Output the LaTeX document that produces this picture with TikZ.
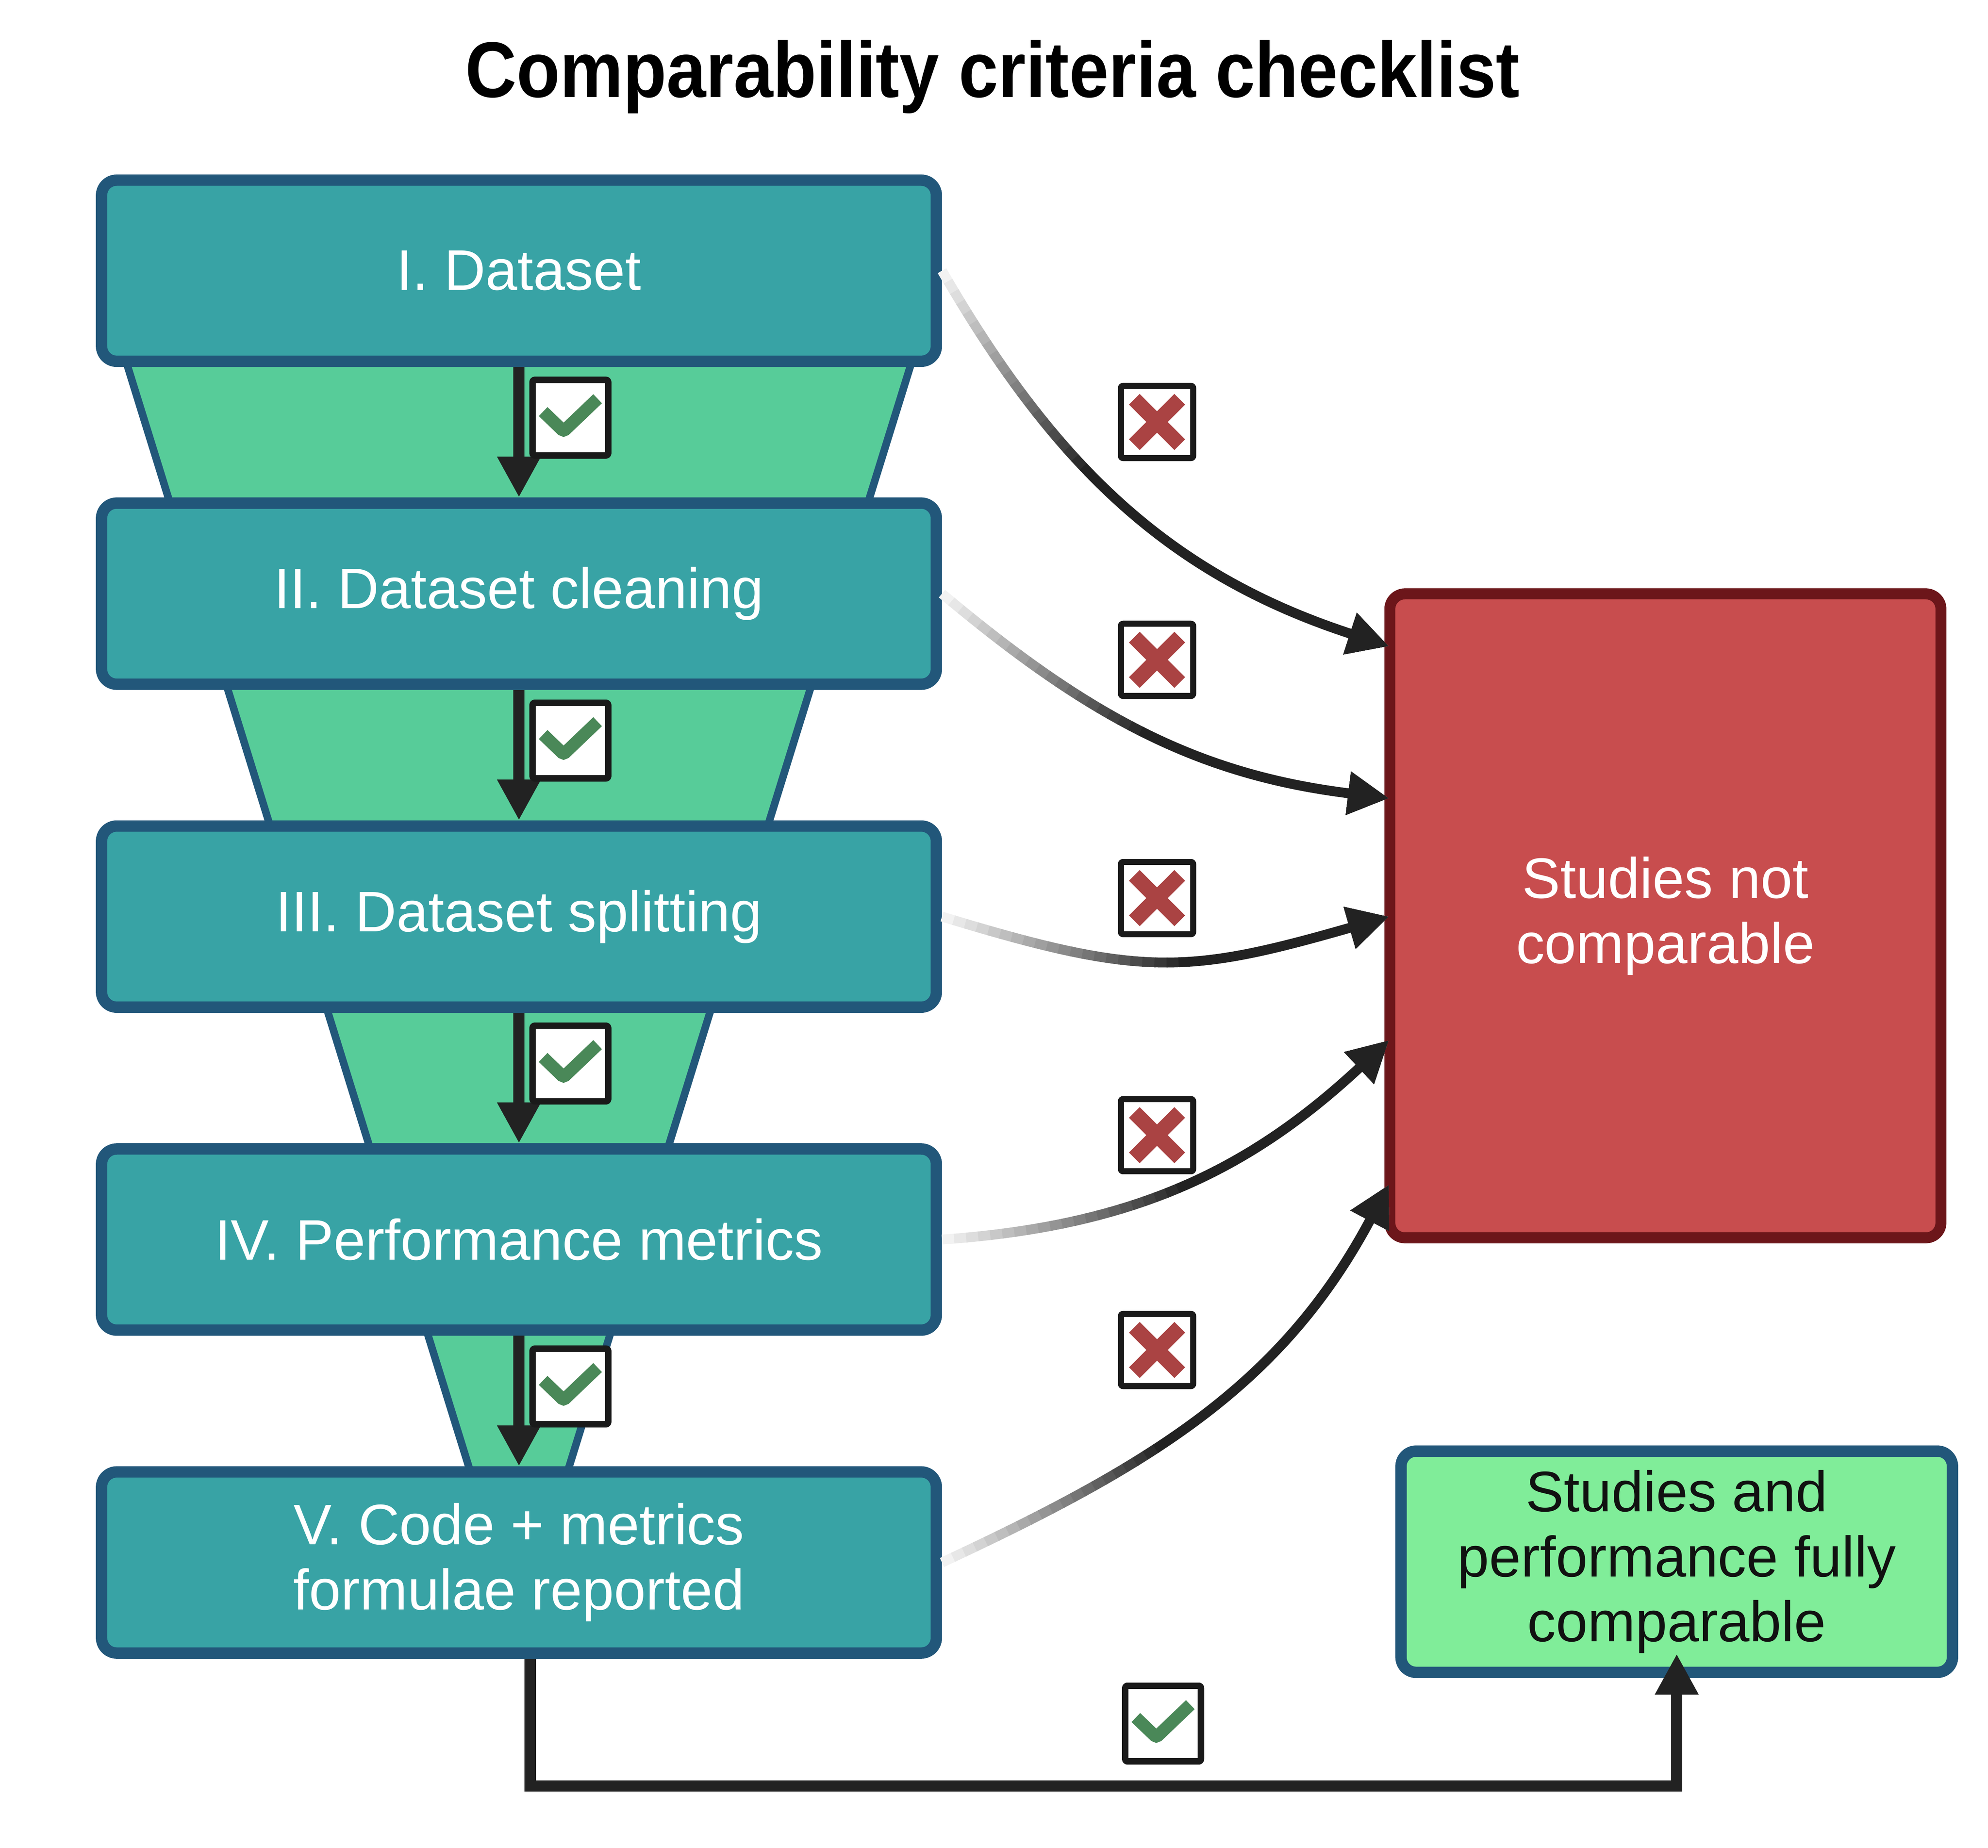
\documentclass[tikz,border=0pt]{standalone}
\usepackage{fontspec}
\setmainfont{Liberation Sans}
\newfontfamily\titlefamily[FakeStretch=0.9]{Liberation Sans}
\usetikzlibrary{calc, positioning, arrows.meta}
\definecolor{boxteal}{HTML}{38A3A5}
\definecolor{boxblue}{HTML}{22577A}
\definecolor{funnelgreen}{HTML}{57CC99}
\definecolor{goodgreen}{HTML}{80ED99}
\definecolor{badred}{HTML}{C84D4E}
\definecolor{badborder}{HTML}{6C161A}
\definecolor{arrowgray}{HTML}{222222}
\definecolor{tickgreen}{HTML}{4A8858}
\definecolor{crossred}{HTML}{AA4343}
\definecolor{boxblack}{HTML}{1A1A1A}
\definecolor{textblack}{HTML}{111111}

\begin{document}
\begin{tikzpicture}[
  stage/.style={draw=boxblue, fill=boxteal, line width=0.15cm, rounded corners=0.2cm,
    minimum width=11.035cm, minimum height=2.395cm, text=white, align=center, font=\myfontbox},
  outcome/.style={line width=0.15cm, rounded corners=0.2cm, align=center, font=\myfontbox},
  tickbox/.style={draw=boxblack, fill=white, line width=0.085cm, rounded corners=0.03cm,
    minimum size=1cm, inner sep=0pt,
    path picture={\draw[tickgreen, line width=0.165cm]
      ([shift={(-0.36,0.08)}]path picture bounding box.center) -- ++(0.27,-0.26) -- ++(0.45,0.43);}},
  crossbox/.style={draw=boxblack, fill=white, line width=0.08cm, rounded corners=0.03cm,
    minimum size=0.955cm, inner sep=0pt,
    path picture={\draw[crossred, line width=0.2cm]
      ([shift={(-0.3,-0.3)}]path picture bounding box.center) -- ++(0.6,0.6)
      ([shift={(-0.3,0.3)}]path picture bounding box.center) -- ++(0.6,-0.6);}},
  flow/.style={draw=arrowgray, line width=0.15cm, -{Triangle[length=0.54cm, width=0.54cm]}},
  reject/.style={line width=0.13cm, -{Triangle[length=0.54cm, width=0.54cm]}}
]
\newcommand{\myfontbox}{\fontsize{21.5}{24.5}\selectfont}
\newcommand{\myfonttitle}{\titlefamily\bfseries\fontsize{29.7}{34}\selectfont}
%Rejection arrow: pale at the stage, dark at the box
\newcommand{\rejectarrow}[3]{
\foreach \k in {0,...,19} {
  \pgfmathsetmacro{\offlen}{\k*0.16}
  \pgfmathsetmacro{\darkness}{6+\k*94/20}
  \draw[reject, arrowgray!\darkness!white, dash pattern=on 0cm off \offlen cm on 0.18cm off 100cm] (#1) #2 (#3);
}
\draw[reject, arrowgray, dash pattern=on 0cm off 3.2cm on 100cm] (#1) #2 (#3);
}
%Canvas
\useasboundingbox (0,0) rectangle (26.28,24.43);
\fill[white] (0,0) rectangle (26.28,24.43);
%Title
\node[anchor=base, font=\myfonttitle] (title) at (13.12,23.145) {Comparability criteria checklist};
%The funnel behind the stages
\coordinate (funnelTopLeft) at (1.58,19.93);
\coordinate (funnelTopRight) at (12.14,19.93);
\coordinate (funnelBottomLeft) at (6.23,4.93);
\coordinate (funnelBottomRight) at (7.49,4.93);
\draw[draw=boxblue, fill=funnelgreen, line width=0.1cm] (funnelTopLeft) -- (funnelTopRight)
  -- (funnelBottomRight) -- (funnelBottomLeft) -- cycle;
%The stages
\node[stage] (stage1) at (6.86,20.85) {I. Dataset};
\node[stage, below=1.725cm of stage1] (stage2) {II. Dataset cleaning};
\node[stage, below=1.725cm of stage2] (stage3) {III. Dataset splitting};
\node[stage, below=1.725cm of stage3] (stage4) {IV. Performance metrics};
\node[stage, below=1.725cm of stage4] (stage5) {V. Code + metrics\\formulae reported};
%Passing from one stage to the next
\foreach \i/\j in {1/2,2/3,3/4,4/5} {
  \draw[flow] (stage\i.south) -- (stage\j.north);
  \node[tickbox] (check\i) at ($(stage\i.south)+(0.68,-0.67)$) {};
}
%Outcomes
\node[outcome, draw=badborder, line width=0.145cm, fill=badred, text=white,
  minimum width=7.285cm, minimum height=8.515cm] (notComparable) at (22.015,12.32) {Studies not\\comparable};
\node[outcome, draw=boxblue, fill=goodgreen, text=textblack,
  minimum width=7.29cm, minimum height=2.925cm] (comparable) at (22.165,3.78) {Studies and\\performance fully\\comparable};
%Failed criteria
\foreach \i/\y in {1/18.85,2/15.705,3/12.555,4/9.42,5/6.58} {
  \node[crossbox] (cross\i) at (15.295,\y) {};
}
\coordinate (entry1) at ($(notComparable.west)+(0.06,3.565)$);
\coordinate (entry2) at ($(notComparable.west)+(0.06,1.555)$);
\coordinate (entry3) at ($(notComparable.west)+(0.06,-0.01)$);
\coordinate (entry4) at ($(notComparable.west)+(0.06,-1.645)$);
\coordinate (entry5) at ($(notComparable.west)+(0.06,-3.555)$);
\rejectarrow{stage1.east}{to[out=-60, in=162]}{entry1}
\rejectarrow{stage2.east}{to[out=-40, in=173]}{entry2}
\rejectarrow{stage3.east}{to[out=-17, in=196, looseness=1.2]}{entry3}
\rejectarrow{stage4.east}{to[out=4, in=223]}{entry4}
\rejectarrow{stage5.east}{to[out=25, in=242]}{entry5}
%All criteria met
\node[tickbox] (check5) at (15.375,1.64) {};
\draw[flow] ([xshift=0.15cm]stage5.south) -- ++(0,-1.6825) -| ([yshift=0.32cm]comparable.south);
\end{tikzpicture}
\end{document}
